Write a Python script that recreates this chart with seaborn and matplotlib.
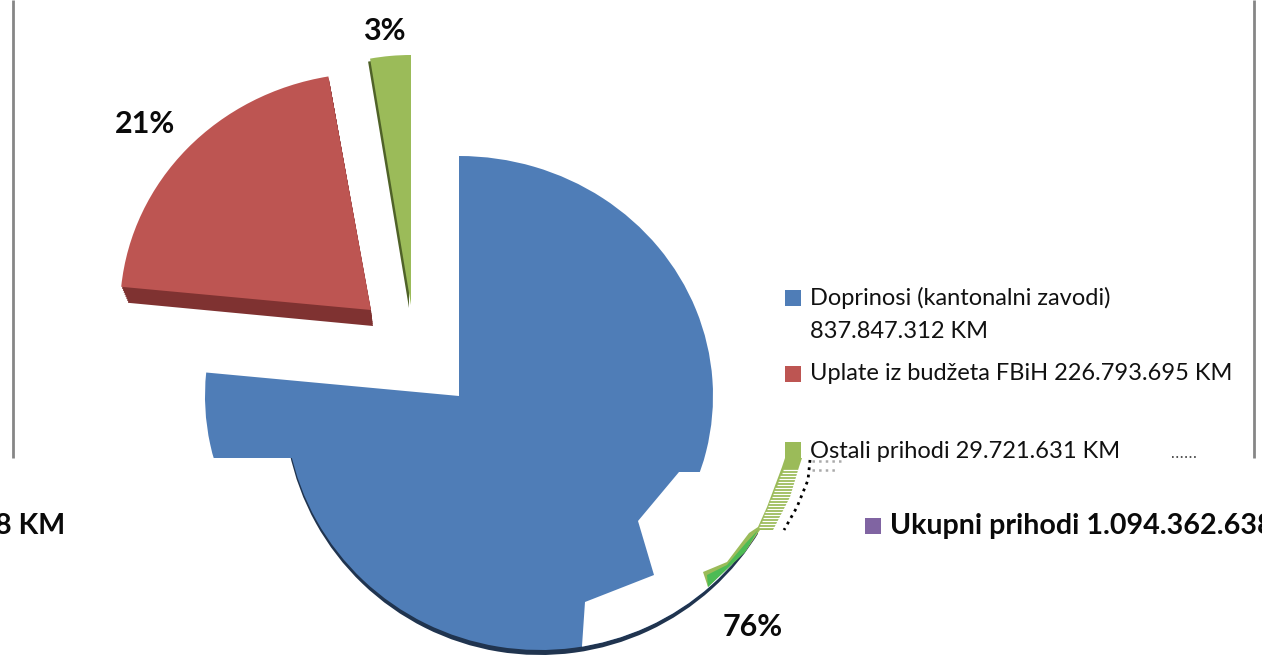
import matplotlib
matplotlib.use('Agg')
import matplotlib.pyplot as plt
from matplotlib.patches import Polygon, Rectangle
from matplotlib.transforms import Affine2D
import seaborn as sns

# Podaci sa slike
CATEGORIES = ['Doprinosi (kantonalni zavodi)', 'Uplate iz budžeta FBiH', 'Ostali prihodi']
VALUES = [837847312, 226793695, 29721631]
PCT_LABELS = ['76%', '21%', '3%']
TOTAL_LABEL = 'Ukupni prihodi 1.094.362.638 KM'

sns.set_theme(style='white')
plt.rcParams['font.family'] = ['Lato', 'DejaVu Sans']

PALETTE = sns.color_palette(['#4f7db7', '#bd5552', '#9bbb59'])
DARK = sns.color_palette(['#20344f', '#7f3231', '#4f6228'])
PURPLE = '#8064a2'
GREY = '#868686'
W, H = 1262, 656

fig = plt.figure(figsize=(W / 100, H / 100), dpi=100)
ax = fig.add_axes([0, 0, 1, 1])


def clip_poly(points):
    return Polygon(points, closed=True, transform=ax.transData)


# crta jedan isjecak kruga, elipsa je zadana preko rx/ry
def draw_slice(idx, cx, cy, rx, ry, colors=PALETTE, clip=None, z=2):
    wedges, _ = ax.pie(VALUES, startangle=90, counterclock=False, colors=colors)
    for i, w in enumerate(wedges):
        if i != idx:
            w.remove()
            continue
        w.set_transform(Affine2D().scale(rx, -ry).translate(cx, cy) + ax.transData)
        w.set_zorder(z)
        w.set_linewidth(0)
        if clip is not None:
            w.set_clip_on(True)
            w.set_clip_path(clip)


# donji dio slike je pomjeren udesno
LOW_BAND = [(0, 458), (W, 458), (W, H), (0, H)]
RIM_BAND = [(0, 458), (758, 458), (758, H), (0, H)]
WHITE_OUT = [(679, 458), (679, 472), (638, 521), (654, 575), (585, 602), (582, 646),
             (582, 700), (900, 700), (900, 458)]
TOP_BAND = [(0, 0), (W, 0), (W, 472), (679, 472), (679, 458), (0, 458)]

draw_slice(0, 540, 400, 256, 255, colors=DARK, clip=clip_poly(RIM_BAND), z=1)
draw_slice(0, 540, 400, 255, 250, clip=clip_poly(LOW_BAND), z=2)
draw_slice(0, 540, 400, 255, 250, colors=['white'] * 3, clip=clip_poly(WHITE_OUT), z=3)
draw_slice(0, 459, 396, 254, 240, clip=clip_poly(TOP_BAND), z=4)

# izdvojeni isjecci s bocnom stranom, debljina se slaze od vise kopija
for k in range(1, 9):
    draw_slice(1, 371 + k * 0.25, 310 + k * 2, 251 - k * 0.6, 237, colors=DARK, z=2)
draw_slice(1, 371, 310, 251, 237, z=3)
draw_slice(2, 409, 308, 241, 250, colors=DARK, z=2)
draw_slice(2, 411, 305, 241, 250, z=3)

# okvir grafikona
ax.vlines([13, 1254], 0, 458, color=GREY, lw=2, zorder=1)

# legenda
TEXT_SIZE = 17
BOLD_SIZE = 20.6
LEGEND_X = 810
ax.add_patch(Rectangle((785, 290), 16, 16, color=PALETTE[0], lw=0))
ax.text(LEGEND_X, 298, CATEGORIES[0], fontsize=TEXT_SIZE, va='center', color='#111111')
ax.text(LEGEND_X, 332, '837.847.312 KM', fontsize=TEXT_SIZE, va='center', color='#111111')
ax.add_patch(Rectangle((785, 366), 16, 16, color=PALETTE[1], lw=0))
ax.text(LEGEND_X, 374, CATEGORIES[1] + ' 226.793.695 KM', fontsize=TEXT_SIZE, va='center',
        color='#111111')
ax.add_patch(Rectangle((785, 442), 16, 16, color=PALETTE[2], lw=0))
t = ax.text(LEGEND_X, 452, CATEGORIES[2] + ' 29.721.631 KM', fontsize=TEXT_SIZE, va='center',
            color='#111111', clip_on=True)
t.set_clip_path(clip_poly([(0, 0), (W, 0), (W, 458), (0, 458)]))

# ukupno, tekst izlazi desno i vraca se lijevo
ax.add_patch(Rectangle((865, 518), 16, 16, color=PURPLE, lw=0))
for x0 in (890, 890 - W):
    ax.text(x0, 526, TOTAL_LABEL, fontsize=BOLD_SIZE, fontweight='bold', va='center',
            color='#0a0a0a', clip_on=True)

# postoci
for (x, y), lab in zip([(753, 627), (145, 124), (384, 31)], PCT_LABELS):
    ax.text(x, y, lab, fontsize=22, fontweight='bold', ha='center', va='center',
            color='#0a0a0a', zorder=6)

# zeleni ostatak uz luk
ax.add_patch(Polygon([(785, 458), (802, 458), (799, 467), (790, 497), (773, 530), (760, 530),
                      (745, 552), (708, 587), (703, 572), (727, 562), (749, 533), (758, 527),
                      (767, 507), (782, 467)],
                     closed=True, color=PALETTE[2], lw=0, zorder=5))
ax.add_patch(Polygon([(758, 530), (745, 552), (708, 587), (707, 575), (727, 565), (745, 544)],
                     closed=True, color='#4dbb55', lw=0, zorder=5))
for y in range(470, 530, 3):
    x_left = 783 - (y - 470) * 0.42
    ax.hlines(y, x_left, x_left + 24, color='white', lw=0.9, zorder=6)
ax.plot([810, 808, 797, 784], [460, 480, 507, 530], ls=':', color='black', lw=2, zorder=5)
ax.hlines([461, 470], 812, [845, 835], color='#aaaaaa', lw=1.8, ls=':', zorder=5)
ax.hlines(457, 1172, 1196, color='#333333', lw=1.2, ls=':', zorder=5)

ax.set_xlim(0, W)
ax.set_ylim(H, 0)
ax.set_aspect('auto')
ax.axis('off')
fig.savefig('out.png', dpi=100, facecolor='white')
